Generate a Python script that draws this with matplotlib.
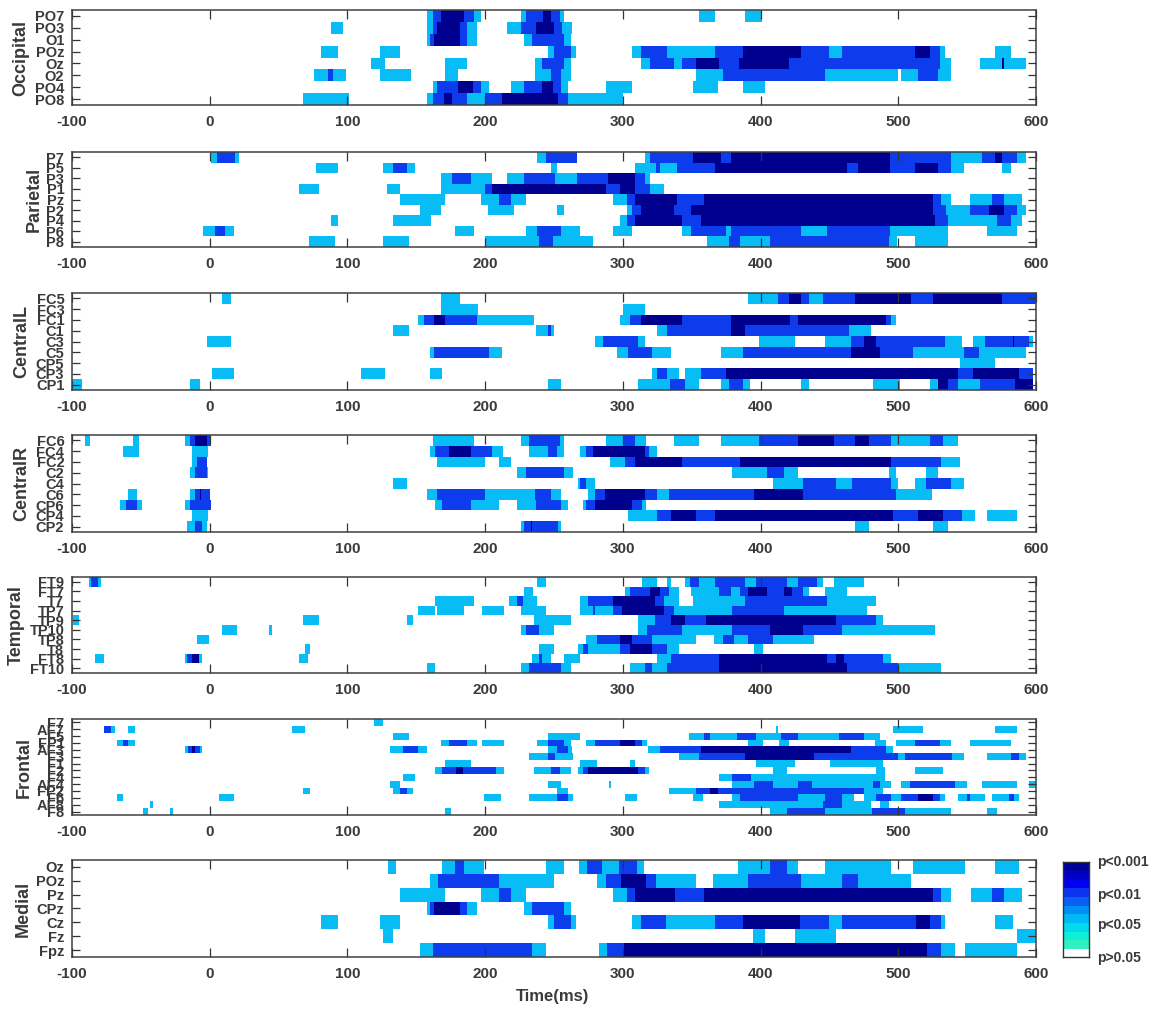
import numpy as np
import matplotlib
matplotlib.use("Agg")
import matplotlib.pyplot as plt
from matplotlib.colors import ListedColormap, BoundaryNorm

plt.rcParams['font.family'] = ['Liberation Sans', 'DejaVu Sans']
plt.rcParams['font.weight'] = 'bold'

L, B, N = 1, 2, 3  # p<0.05, p<0.01, p<0.001

occipital_labels = ["PO7", "PO3", "O1", "POz", "Oz", "O2", "PO4", "PO8"]
occipital_runs = [
    [(158,162,L),(162,168,B),(168,185,N),(185,192,B),(192,197,L),(226,230,L),(230,242,B),(242,248,N),(248,254,B),(254,257,L),(355,367,L),(389,401,L)],
    [(88,97,L),(158,162,L),(162,165,B),(165,182,N),(182,187,B),(187,194,L),(216,226,L),(226,237,B),(237,250,N),(250,256,B),(256,263,L)],
    [(158,160,L),(160,163,B),(163,182,N),(182,187,B),(187,194,L),(228,234,L),(234,257,B),(257,262,L)],
    [(81,93,L),(124,138,L),(246,250,L),(250,262,B),(262,266,L),(307,313.5,L),(313.5,332,B),(332,367,L),(367,387,B),(387,429,N),(429,450,B),(450,459,L),(459,512,B),(512,523,N),(523,530,B),(530,534,L),(570,582,L)],
    [(117,127,L),(171,187,L),(236,241,L),(241,257,B),(257,262,L),(313.5,320,L),(320,337,B),(337,343,L),(343,353,B),(353,370,N),(370,384,B),(384,421,N),(421,530,B),(530,538,L),(559,575,L),(575,576.5,N),(576.5,592.5,L)],
    [(75.5,86,L),(86,89.5,B),(89.5,99,L),(124,146,L),(171,180,L),(236,248,L),(248,255,B),(255,262,L),(353,373,L),(373,447,B),(447,500,L),(502,514,L),(514,529,B),(529,538,L)],
    [(162,165,L),(165,180,B),(180,191,N),(191,197,B),(197,203,L),(219,228,L),(228,241,B),(241,249,N),(249,255,B),(255,260,L),(287.5,307,L),(351,369,L),(387,403,L)],
    [(68,101,L),(158,162,L),(162,170,B),(170,176,N),(176,187,B),(187,200,L),(200,203,B),(203,212,B),(212,253,N),(253,260,B),(260,300,L)],
]

parietal_labels = ["P7", "P5", "P3", "P1", "Pz", "P2", "P4", "P6", "P8"]
parietal_runs = [
    [(1,5,L),(5,18,B),(18,21,L),(238,244,L),(244,267,B),(316,320,L),(320,351,B),(351,371,N),(371,378.5,B),(378.5,494,N),(494,538,B),(538,561,L),(561,570,B),(570,575,N),(575,586,B),(586,592.5,L)],
    [(77,93,L),(126,133,L),(133,143,B),(143,149,L),(248,252,L),(309,324,L),(324,327,B),(327,339,L),(339,367,B),(367,462.5,N),(462.5,471,B),(471,494,N),(494,512,B),(512,529,N),(529,538,B),(538,548,L),(575,582,L)],
    [(168,176,L),(176,190,B),(190,205,L),(216,228,L),(228,251,B),(251,267,L),(267,289,B),(289,309,N),(309,316,B),(316,320,L)],
    [(65,79,L),(129,138,L),(168,200,L),(200,205,B),(205,287.5,N),(287.5,298,B),(298,309,N),(309,320,B),(320,330,L)],
    [(138,171,L),(197,210,L),(210,219,B),(219,230,L),(293,303,L),(303,309,B),(309,339,N),(339,359,B),(359,525,N),(525,531,B),(531,538,L),(552,568,L),(568,577,B),(577,590,L)],
    [(153,168,L),(202,221,L),(252,257,L),(303,307,L),(307,313.5,B),(313.5,337,N),(337,349.5,B),(349.5,525,N),(525,534.5,B),(534.5,552,L),(552,566,B),(566,577,N),(577,586,B),(586,592.5,L)],
    [(88,93,L),(133,161,L),(298,303,L),(303,309,B),(309,343,N),(343,357,B),(357,527,N),(527,536,B),(536,572,L),(572,582,B),(582,590,L)],
    [(-5,3.5,L),(3.5,11,B),(11,17.5,L),(178,192,L),(230,238,L),(238,255,B),(255,269,L),(293,307,L),(343,349.5,L),(349.5,375,B),(375,378.5,L),(378.5,429,B),(429,448.5,L),(448.5,494,B),(494,536,L),(564.5,586,L)],
    [(72,91,L),(126,145,L),(200,239,L),(239,249,B),(249,278,L),(361,377,L),(377,385,B),(385,407,L),(407,493,B),(493,499,L),(512,536,L)],
]

centrall_labels = ["FC5", "FC3", "FC1", "C1", "C3", "C5", "CP5", "CP3", "CP1"]
centrall_runs = [
    [(9,15.5,L),(168,182,L),(391,413,L),(413,421,B),(421,429,N),(429,435.5,B),(435.5,445,L),(445,468.5,B),(468.5,509,N),(509,525,B),(525,575,N),(575,600,B)],
    [(168,195,L),(300,316,L)],
    [(151,155.5,L),(155.5,163,B),(163,171,N),(171,194,B),(194,235.5,L),(298,305,L),(305,313.5,B),(313.5,343,N),(343,378.5,B),(378.5,421.5,N),(421.5,427,B),(427,491,N),(491,494.5,B),(494.5,498,L)],
    [(133,145,L),(237,246,L),(246,248,B),(248,250,L),(325,332,L),(332,378.5,B),(378.5,389,N),(389,464.5,B),(464.5,480,L)],
    [(-2,15.5,L),(279.5,285.5,L),(285.5,311,B),(311,316,L),(398.5,425,L),(447,466,L),(466,475,B),(475,484,N),(484,534,B),(534,546.5,L),(554,563,L),(563,583,B),(583,584,N),(584,595,B),(595,598,L)],
    [(160,163,L),(163,203,B),(203,212,L),(296,303.5,L),(303.5,321,B),(321,335,L),(371,387,L),(387,466,B),(466,487,N),(487,511,B),(511,548,L),(548,558.5,B),(558.5,592.5,L)],
    [(545,570,L)],
    [(1.5,17.5,L),(110,127,L),(160,169,L),(321,325,L),(325,332,B),(332,341,L),(345,357,L),(357,375,B),(375,543,N),(543,554,B),(554,588,N),(588,598,B)],
    [(-100,-93,L),(-14.5,-7,L),(246,255,L),(311,334,L),(334,345,B),(345,355,L),(371,377,L),(377,387,B),(387,392.5,L),(429,435,L),(482,501,L),(523,529,L),(529,536,N),(536,543,B),(543,559,L),(559,584.5,B),(584.5,598,N)],
]

centralr_labels = ["FC6", "FC4", "FC2", "C2", "C4", "C6", "CP6", "CP4", "CP2"]
centralr_runs = [
    [(-90.5,-87,L),(-56,-51,L),(-18,-14.5,L),(-14.5,-11,B),(-11,-2,N),(-2,1,B),(162,192,L),(226,232,L),(232,254,B),(254,257,L),(287.5,300,L),(300,309,B),(309,317,L),(337,355,L),(371,398.5,L),(398.5,427,B),(427,453,N),(453,468.5,B),(468.5,479,N),(479,494.5,B),(494.5,523,L),(523,532.5,B),(532.5,543,L)],
    [(-63,-51,L),(-13,-1,L),(160,163.5,L),(163.5,174,B),(174,190,N),(190,205,B),(205,213,L),(232,246,L),(246,252,B),(252,257,L),(269,273,L),(273,278,B),(278,316,N),(316,319,B),(319,325,L)],
    [(-13,-9,L),(-9,-2,B),(165,200,L),(210,219,L),(291,301.5,L),(301.5,309,B),(309,343,N),(343,385,B),(385,494.5,N),(494.5,531,B),(531,545,L)],
    [(-14.5,-11,L),(-11,-2,B),(-2,-1,L),(223,229.5,L),(229.5,257,B),(257,264,L),(379,405,L),(405,417,B),(417,427,L),(493,498,L),(520,528.5,L)],
    [(133,143,L),(267.5,269,L),(269,273,B),(273,279.5,L),(409,431,L),(431,455,B),(455,466.5,L),(466.5,494.5,B),(494.5,500,L),(512,520,L),(520,538,B),(538,548,L)],
    [(-59,-53,L),(-14.5,-11,L),(-11,-7,B),(-7,-6,N),(-6,0.5,B),(158,165,L),(165,200,B),(200,236,L),(236,248,B),(248,255,L),(274.5,279.5,L),(279.5,287,B),(287,316,N),(316,325,B),(325,333.5,L),(333.5,395,B),(395,431,N),(431,498,B),(498,524.5,L)],
    [(-65,-61,L),(-61,-52.5,B),(-52.5,-49,L),(-18,-14.5,L),(-14.5,1,B),(163.5,169,L),(169,190,B),(190,210,L),(223,237,L),(237,255,B),(255,260,L),(271,273,L),(273,279.5,B),(279.5,307,N),(307,314,B),(314,317,L)],
    [(-13,-1,L),(303.5,325,L),(325,335,B),(335,353,N),(353,367,B),(367,496,N),(496,514.5,B),(514.5,532.5,N),(532.5,546.5,B),(546.5,556,L),(564.5,586,L)],
    [(-16.5,-11,L),(-11,-5.5,B),(-5.5,-2,L),(226,228,L),(228,233,B),(233,234,N),(234,253,B),(253,255,L),(468.5,479,L),(525,536,L)],
]

temporal_labels = ["FT9", "FT7", "T7", "TP7", "TP9", "TP10", "TP8", "T8", "FT8", "FT10"]
temporal_runs = [
    [(-88,-86.5,L),(-86.5,-81,B),(-81,-79,L),(237.5,244,L),(314,325,L),(332,335,L),(345,349,L),(349,355,B),(355,367,L),(367,389,B),(389,396.5,L),(396.5,419,B),(419,427,L),(427,441,B),(441,445,L),(453,475,L)],
    [(228,235,L),(301.5,305,L),(305,319.5,B),(319.5,327,N),(327,333.5,B),(333.5,341,L),(349.5,369.5,L),(369.5,378.5,B),(378.5,385,L),(385,391,B),(391,405,N),(405,417,B),(417,423,N),(423,431,B),(431,435,L),(447,462.5,L)],
    [(163.5,192,L),(217.5,223,L),(223,227.5,B),(227.5,237.5,L),(269,274.5,L),(274.5,293,B),(293,323,N),(323,330,B),(330,341,L),(351,389,L),(389,448.5,B),(448.5,484,L)],
    [(151,163.5,L),(165,185,L),(198,214,L),(226,244,L),(269,278,L),(278,279.5,B),(279.5,293,L),(293,299.5,B),(299.5,330,N),(330,337,B),(337,379,L),(379,417,B),(417,477,L)],
    [(-99.5,-95,L),(68,79,L),(143.5,147.5,L),(235.5,262,L),(311,323,L),(323,335,B),(335,345,N),(345,360.5,B),(360.5,455,N),(455,484,B),(484,489,L)],
    [(9,19.5,L),(43,45,L),(226,229.5,L),(229.5,239,B),(239,250,L),(311,317.5,L),(317.5,343,B),(343,379,L),(379,407,B),(407,431,N),(431,459,B),(459,527,L)],
    [(-9,-0.5,L),(273,281,L),(281,298,B),(298,307,N),(307,321,B),(321,353,L),(366,373,L),(373,380.5,B),(380.5,391,L),(391,409,B),(409,439,L)],
    [(69.5,73,L),(239,250,L),(267.5,271,L),(271,274.5,B),(274.5,298,L),(298,305,B),(305,321,N),(321,332,B),(332,341,L),(395,401.5,L)],
    [(-83,-77,L),(-18,-16.5,L),(-16.5,-13,B),(-13,-7.5,N),(-7.5,-5.5,L),(65,71.5,L),(234,239,L),(239,241,B),(241,248,L),(257,269,L),(325,335,L),(335,369.5,B),(369.5,448.5,N),(448.5,455,B),(455,460.5,N),(460.5,489,B),(489,494.5,L)],
    [(158,163.5,L),(226,232,L),(232,255,B),(255,262,L),(305,316,L),(316,321,B),(321,332,L),(332,369.5,B),(369.5,462.5,N),(462.5,500,B),(500,531,L)],
]

frontal_labels = ["F7", "AF7", "F5", "FP1", "AF3", "F3", "F1", "F2", "F4", "AF4", "FP2", "F6", "AF8", "F8"]
frontal_runs = [
    [(119.5,125.5,L)],
    [(-77,-72,B),(-72,-69,L),(-59,-54.5,L),(59.5,69.5,L),(411,412.5,L),(496,518,L),(570,586,L)],
    [(133,145,L),(246,269,L),(348,359,L),(359,363,B),(363,383,L),(383,396.5,B),(396.5,415,L),(415,427,B),(427,457,L),(457,475,B),(475,487,L)],
    [(-67,-63,L),(-63,-59,B),(-59,-54.5,L),(168,174,L),(174,187,B),(187,194,L),(198,214,L),(238,246,L),(246,257,B),(257,262,L),(273,279.5,L),(279.5,298,B),(298,309,N),(309,314,B),(314,317.5,L),(391,401.5,L),(413.5,421,L),(483,491,L),(498,512,L),(512,530.5,B),(530.5,538,L),(552,582,L)],
    [(-18,-16,L),(-16,-13,B),(-13,-11,N),(-11,-7,B),(-7,-5.5,L),(131,140,L),(140,151.5,B),(151.5,158,L),(246,252,L),(252,260,B),(260,263,L),(318,327,L),(327,357,B),(357,466,N),(466,491,B),(491,496,L)],
    [(232,246,L),(246,251,B),(251,264,L),(341,355.5,L),(355.5,389,B),(389,439,N),(439,500,B),(500,505,L),(505,539,B),(539,548,L),(564.5,582,L),(582,588,B),(588,592.5,L)],
    [(171,190,L),(269,281,L),(305.5,309,L),(396.5,425,L),(450.5,489,L)],
    [(163.5,169,L),(169,179,B),(179,184,N),(184,208,B),(208,214,L),(235.5,248,L),(248,254,B),(254,262,L),(267.5,271,L),(271,274.5,B),(274.5,311,N),(311,316,B),(316,319,L),(409,419,L),(484,490,L),(512,532.5,L)],
    [(140,149,L),(369.5,379,L),(379,393,B),(393,490,L)],
    [(131,138,L),(246,255,L),(290,291.5,L),(379,395,L),(395,409,B),(409,427.5,L),(427.5,437,B),(437,482,L),(482,487,B),(487,494.5,L),(502,508.5,L),(508.5,541,B),(541,550,L),(560.5,586,L),(595,600,L)],
    [(68,73,L),(133,138,L),(138,143,B),(143,147.5,L),(252,260,L),(333.5,353,L),(353,363,B),(363,369,N),(369,475,B),(475,489,L)],
    [(-67,-63,L),(7,17.5,L),(199.5,211.5,L),(232,252,L),(252,260,B),(260,264,L),(301.5,310.5,L),(351,358,L),(379,385,L),(385,427,B),(427,447,L),(447,459,B),(459,468,L),(475,484,L),(484,494.5,B),(494.5,502,L),(502,514.5,B),(514.5,525,N),(525,530.5,B),(530.5,534,L),(543,550,L),(550,552,B),(552,563,L),(568,580.5,L),(580.5,584,B),(584,588,L)],
    [(-43,-41.5,L),(369.5,445,L),(445,459,B),(459,480,L),(487,493,L)],
    [(-48.5,-45,L),(-29,-27,L),(171,175.5,L),(407,419,L),(419,447,B),(447,481,L),(481,505,B),(505,538,L),(564.5,572,L)],
]

medial_labels = ["Oz", "POz", "Pz", "CPz", "Cz", "Fz", "Fpz"]
medial_runs = [
    [(129.5,135,L),(169,178,L),(178,185,B),(185,199.5,L),(244,257,L),(268.5,274,L),(274,284.5,B),(284.5,297,L),(297,310,B),(310,315,L),(383.5,407,L),(407,419,B),(419,427,L),(447,495,L),(511,548.5,L),(570,588,L)],
    [(160,165.5,L),(165.5,210,B),(210,250,L),(281,288,L),(288,299,B),(299,317,N),(317,324,B),(324,353,L),(365.5,391,L),(391,429,B),(429,459,L),(459,471,B),(471,509,L)],
    [(138,171,L),(197,210,L),(210,219,B),(219,230,L),(292.5,303,L),(303,309,B),(309,338,N),(338,359,B),(359,525,N),(525,531,B),(531,538,L),(553,568,L),(568,577,B),(577,590,L)],
    [(158,160,L),(160,163,B),(163,182,N),(182,187,B),(187,194,L),(228,234,L),(234,257,B),(257,262,L)],
    [(81,93,L),(124,138,L),(246,250,L),(250,262,B),(262,266,L),(307,313,L),(313,331,B),(331,367,L),(367,387,B),(387,428.5,N),(428.5,450,B),(450,459,L),(459,513,B),(513,523,N),(523,531,B),(531,534,L),(570,583,L)],
    [(126,133,L),(394.5,403,L),(425,455,L),(586.5,600,L)],
    [(153,162,L),(162,234,B),(234,244.5,L),(283,288.5,L),(288.5,301,B),(301,520.5,N),(520.5,531,B),(531,541,L),(548.5,586.5,L)],
]

xticks = [-100, 0, 100, 200, 300, 400, 500, 600]
level_colors = ["#ffffff", "#08bdf6", "#0c3cec", "#00008f"]
cbar_colors = ["#ffffff", "#30f0c0", "#10f0d8", "#00dcec", "#00b8f5", "#0090f5",
               "#0a60f0", "#0a32f0", "#0000f0", "#0000c8", "#00009a"]
cbar_labels = ["p<0.001", "p<0.01", "p<0.05", "p>0.05"]
TEXT = "#3a3a3a"
W, H = 1153, 1010

panels = [
    ("Occipital", occipital_labels, occipital_runs, 10, 105, 21),
    ("Parietal", parietal_labels, parietal_runs, 152, 247, 34),
    ("CentralL", centrall_labels, centrall_runs, 293, 390, 22),
    ("CentralR", centralr_labels, centralr_runs, 435, 532, 22),
    ("Temporal", temporal_labels, temporal_runs, 577, 673, 16),
    ("Frontal", frontal_labels, frontal_runs, 719, 815, 24),
    ("Medial", medial_labels, medial_runs, 860, 957, 23),
]

fig = plt.figure(figsize=(W / 100, H / 100), dpi=100, facecolor="white")
cmap = ListedColormap(level_colors)
norm = BoundaryNorm([-0.5, 0.5, 1.5, 2.5, 3.5], cmap.N)
edges = np.arange(-100, 600.5, 0.5)
centers = (edges[:-1] + edges[1:]) / 2

for title, labels, runs, top, bottom, title_x in panels:
    ax = fig.add_axes([72 / W, 1 - bottom / H, (1036 - 72) / W, (bottom - top) / H])
    matrix = np.zeros((len(labels), len(centers)))
    for i, row in enumerate(runs):
        for start, end, level in row:
            matrix[i, (centers >= start) & (centers < end)] = level
    ax.pcolormesh(edges, np.arange(len(labels) + 1) - 0.5, matrix, cmap=cmap, norm=norm, shading="flat")
    ax.set_ylim(len(labels) - 0.5, -0.5)
    ax.set_xlim(-100, 600)
    ax.set_xticks(xticks)
    ax.set_xticklabels([str(t) for t in xticks], fontsize=11, color=TEXT)
    ax.set_yticks(range(len(labels)))
    ax.set_yticklabels(labels, fontsize=10.5, color=TEXT)
    ax.tick_params(axis="x", direction="in", length=6.5, width=0.9, top=True, pad=7.5, color="#333333")
    ax.tick_params(axis="y", direction="in", length=6, width=0.9, right=True, pad=5.5, color="#333333")
    for s in ax.spines.values():
        s.set_color("#404040")
        s.set_linewidth(1.1)
    fig.text(title_x / W, 1 - (top + bottom) / 2 / H, title, rotation=90, fontsize=13,
             ha="center", va="center", color=TEXT)

fig.text(553 / W, 1 - 996 / H, "Time(ms)", fontsize=12, ha="center", va="center", color=TEXT)

cax = fig.add_axes([1063 / W, 1 - 957 / H, 26 / W, 95 / H])
n = len(cbar_colors)
weights = np.array([0.9] + [1.0] * (n - 1))
cb_edges = np.concatenate([[0], np.cumsum(weights)])
cax.pcolormesh([0, 1], cb_edges, np.arange(n).reshape(-1, 1), cmap=ListedColormap(cbar_colors),
               vmin=-0.5, vmax=n - 0.5)
cax.set_xticks([])
cax.set_yticks([])
for s in cax.spines.values():
    s.set_color("#333333")
    s.set_linewidth(1.0)
for text, y in zip(cbar_labels, [862, 895, 925, 958]):
    fig.text(1097 / W, 1 - y / H, text, fontsize=10, ha="left", va="center", color=TEXT)

fig.savefig("out.png", dpi=100, facecolor="white")
